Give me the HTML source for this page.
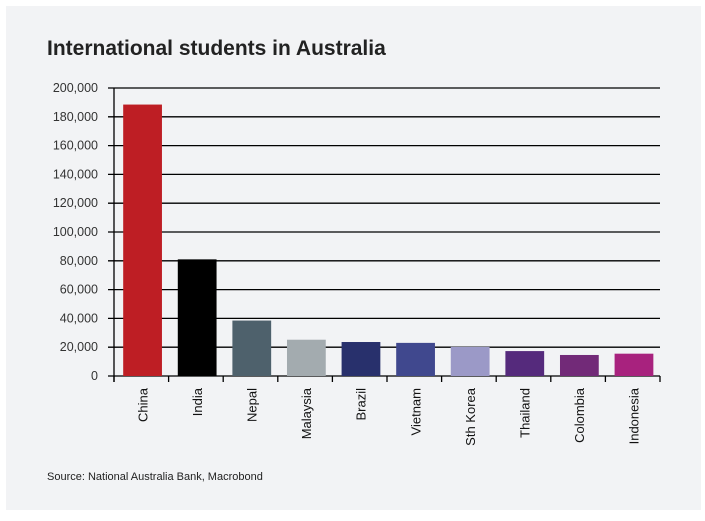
<!DOCTYPE html>
<html><head><meta charset="utf-8"><style>
body{margin:0;background:#fff;width:705px;height:516px;overflow:hidden;font-family:"Liberation Sans",sans-serif}
</style></head><body>
<svg width="705" height="516">
<rect x="6" y="6" width="695" height="504" fill="#f2f3f5"/>
<text x="47" y="55" font-size="21" font-weight="bold" fill="#222">International students in Australia</text>
<g id="grid"></g><g id="bars"></g><g id="axes"></g>
<text x="47" y="480" font-size="11" fill="#222">Source: National Australia Bank, Macrobond</text>
</svg>
<script>
const categories=["China","India","Nepal","Malaysia","Brazil","Vietnam","Sth Korea","Thailand","Colombia","Indonesia"];
const values=[188500,81000,38500,25200,23600,23000,20200,17300,14600,15500];
const colors=["#be1e24","#000000","#4e616c","#a3abaf","#28306c","#40488e","#9b99c7","#552a7c","#722a78","#a8227e"];
const ticks=[0,20000,40000,60000,80000,100000,120000,140000,160000,180000,200000];
const ns="http://www.w3.org/2000/svg";
const X0=114,X1=660,Y0=376,Y1=88,MAX=200000;
const y=v=>Y0-(v/MAX)*(Y0-Y1);
const bw=(X1-X0)/categories.length;
const x=i=>X0+i*bw;
function mk(t,a,p){const e=document.createElementNS(ns,t);for(const k in a)e.setAttribute(k,a[k]);p.appendChild(e);return e;}
const grid=document.getElementById('grid'),bars=document.getElementById('bars'),axes=document.getElementById('axes');
ticks.forEach(t=>{
 const l=mk('line',{x1:X0-6,x2:X1,y1:y(t),y2:y(t),stroke:'#000','stroke-width':1.3},grid);
 
 
 const tx=mk('text',{x:X0-16,y:y(t)+4,'text-anchor':'end','font-size':12.5,fill:'#333'},grid);
 tx.textContent=t.toLocaleString('en-US');
 
 
});
categories.forEach((c,i)=>{
 const r=mk('rect',{x:x(i)+bw*0.15+1,y:y(values[i]),width:bw*0.71,height:Y0-y(values[i]),fill:colors[i]},bars);
 
 
 const cx=x(i)+bw/2+1;
 const t=mk('text',{x:0,y:0,'text-anchor':'end','font-size':13,fill:'#111',transform:`translate(${cx+5},388) rotate(-90)`},axes);
 t.textContent=c;
 
 
});
for(let i=0;i<=categories.length;i++){
 const tk=mk('line',{x1:x(i),x2:x(i),y1:Y0,y2:Y0+6,stroke:'#000','stroke-width':1.3},axes);
 
 
}
const ya=mk('line',{x1:X0,x2:X0,y1:Y1,y2:Y0+6,stroke:'#000','stroke-width':1.3},axes);


</script>
</body></html>
